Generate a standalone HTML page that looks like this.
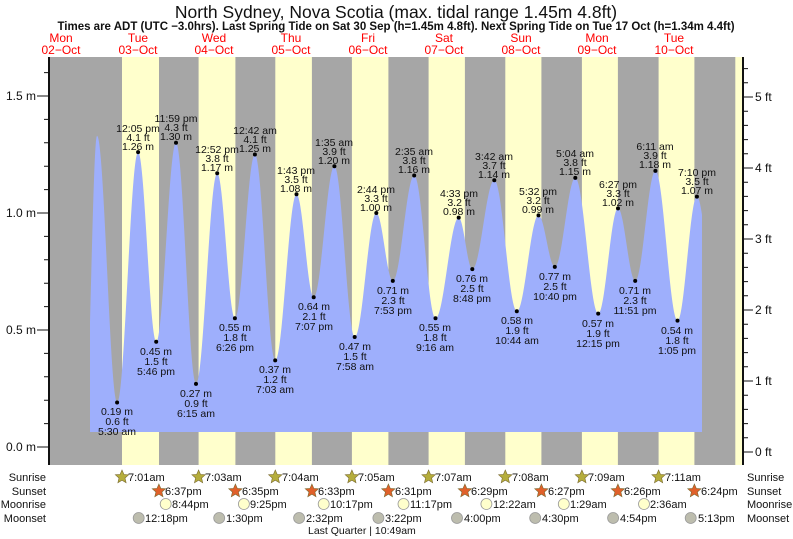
<!DOCTYPE html>
<html><head><meta charset="utf-8"><style>
body{margin:0;background:#fff;}
svg{display:block;font-family:"Liberation Sans",sans-serif;}
.t{font-size:10.5px;fill:#111;text-anchor:middle;}
.d{font-size:12px;fill:#ff0000;text-anchor:middle;}
.b{font-size:11px;fill:#111;}
</style></head><body>
<svg id="s" width="793" height="539" viewBox="0 0 793 539">
<rect width="793" height="539" fill="#fff"/>
<text x="396" y="18" font-size="17.5" text-anchor="middle" fill="#111">North Sydney, Nova Scotia (max. tidal range 1.45m 4.8ft)</text>
<text x="396" y="30" font-size="11.5" font-weight="bold" text-anchor="middle" fill="#111">Times are ADT (UTC −3.0hrs). Last Spring Tide on Sat 30 Sep (h=1.45m 4.8ft). Next Spring Tide on Tue 17 Oct (h=1.34m 4.4ft)</text>
<g class="d">
<text x="61" y="42">Mon</text><text x="61" y="54">02−Oct</text>
<text x="138" y="42">Tue</text><text x="138" y="54">03−Oct</text>
<text x="214" y="42">Wed</text><text x="214" y="54">04−Oct</text>
<text x="291" y="42">Thu</text><text x="291" y="54">05−Oct</text>
<text x="368" y="42">Fri</text><text x="368" y="54">06−Oct</text>
<text x="444" y="42">Sat</text><text x="444" y="54">07−Oct</text>
<text x="521" y="42">Sun</text><text x="521" y="54">08−Oct</text>
<text x="597" y="42">Mon</text><text x="597" y="54">09−Oct</text>
<text x="674" y="42">Tue</text><text x="674" y="54">10−Oct</text>
</g>
<rect x="49" y="57" width="694" height="408" fill="#a6a6a6"/>
<g fill="#ffffcc">
<rect x="122" y="57" width="37" height="408"/>
<rect x="198.6" y="57" width="36.8" height="408"/>
<rect x="275.3" y="57" width="36.6" height="408"/>
<rect x="351.9" y="57" width="36.5" height="408"/>
<rect x="428.6" y="57" width="36.3" height="408"/>
<rect x="505.3" y="57" width="36.1" height="408"/>
<rect x="581.9" y="57" width="36" height="408"/>
<rect x="658.6" y="57" width="35.8" height="408"/>
<rect x="735.3" y="57" width="7.7" height="408"/>
</g>
<path id="tide" fill="#9eaffc" d=""/>
<g id="ticks" stroke="#111" stroke-width="1"></g>
<line x1="49" y1="57" x2="49" y2="465" stroke="#111" stroke-width="2"/>
<line x1="743" y1="57" x2="743" y2="465" stroke="#111" stroke-width="2"/>
<g font-size="12" fill="#111">
<text x="36" y="451" text-anchor="end">0.0 m</text>
<text x="36" y="334" text-anchor="end">0.5 m</text>
<text x="36" y="217" text-anchor="end">1.0 m</text>
<text x="36" y="100" text-anchor="end">1.5 m</text>
<text x="755" y="456">0 ft</text>
<text x="755" y="385">1 ft</text>
<text x="755" y="314">2 ft</text>
<text x="755" y="243">3 ft</text>
<text x="755" y="172">4 ft</text>
<text x="755" y="101">5 ft</text>
</g>
<g id="dots" fill="#000"></g>
<g class="t">
<text x="117" y="415">0.19 m</text><text x="117" y="425">0.6 ft</text><text x="117" y="435">5:30 am</text>
<text x="138" y="132">12:05 pm</text><text x="138" y="141">4.1 ft</text><text x="138" y="150">1.26 m</text>
<text x="156" y="355">0.45 m</text><text x="156" y="365">1.5 ft</text><text x="156" y="375">5:46 pm</text>
<text x="176" y="122">11:59 pm</text><text x="176" y="131">4.3 ft</text><text x="176" y="140">1.30 m</text>
<text x="196" y="397">0.27 m</text><text x="196" y="407">0.9 ft</text><text x="196" y="417">6:15 am</text>
<text x="217" y="153">12:52 pm</text><text x="217" y="162">3.8 ft</text><text x="217" y="171">1.17 m</text>
<text x="235" y="331">0.55 m</text><text x="235" y="341">1.8 ft</text><text x="235" y="351">6:26 pm</text>
<text x="255" y="134">12:42 am</text><text x="255" y="143">4.1 ft</text><text x="255" y="152">1.25 m</text>
<text x="275" y="373">0.37 m</text><text x="275" y="383">1.2 ft</text><text x="275" y="393">7:03 am</text>
<text x="296" y="174">1:43 pm</text><text x="296" y="183">3.5 ft</text><text x="296" y="192">1.08 m</text>
<text x="314" y="310">0.64 m</text><text x="314" y="320">2.1 ft</text><text x="314" y="330">7:07 pm</text>
<text x="334" y="146">1:35 am</text><text x="334" y="155">3.9 ft</text><text x="334" y="164">1.20 m</text>
<text x="355" y="350">0.47 m</text><text x="355" y="360">1.5 ft</text><text x="355" y="370">7:58 am</text>
<text x="376" y="193">2:44 pm</text><text x="376" y="202">3.3 ft</text><text x="376" y="211">1.00 m</text>
<text x="393" y="294">0.71 m</text><text x="393" y="304">2.3 ft</text><text x="393" y="314">7:53 pm</text>
<text x="414" y="155">2:35 am</text><text x="414" y="164">3.8 ft</text><text x="414" y="173">1.16 m</text>
<text x="435" y="331">0.55 m</text><text x="435" y="341">1.8 ft</text><text x="435" y="351">9:16 am</text>
<text x="459" y="197">4:33 pm</text><text x="459" y="206">3.2 ft</text><text x="459" y="215">0.98 m</text>
<text x="472" y="282">0.76 m</text><text x="472" y="292">2.5 ft</text><text x="472" y="302">8:48 pm</text>
<text x="494" y="160">3:42 am</text><text x="494" y="169">3.7 ft</text><text x="494" y="178">1.14 m</text>
<text x="517" y="324">0.58 m</text><text x="517" y="334">1.9 ft</text><text x="517" y="344">10:44 am</text>
<text x="538" y="195">5:32 pm</text><text x="538" y="204">3.2 ft</text><text x="538" y="213">0.99 m</text>
<text x="555" y="280">0.77 m</text><text x="555" y="290">2.5 ft</text><text x="555" y="300">10:40 pm</text>
<text x="575" y="157">5:04 am</text><text x="575" y="166">3.8 ft</text><text x="575" y="175">1.15 m</text>
<text x="598" y="327">0.57 m</text><text x="598" y="337">1.9 ft</text><text x="598" y="347">12:15 pm</text>
<text x="618" y="188">6:27 pm</text><text x="618" y="197">3.3 ft</text><text x="618" y="206">1.02 m</text>
<text x="635" y="294">0.71 m</text><text x="635" y="304">2.3 ft</text><text x="635" y="314">11:51 pm</text>
<text x="655" y="150">6:11 am</text><text x="655" y="159">3.9 ft</text><text x="655" y="168">1.18 m</text>
<text x="677" y="334">0.54 m</text><text x="677" y="344">1.8 ft</text><text x="677" y="354">1:05 pm</text>
<text x="697" y="176">7:10 pm</text><text x="697" y="185">3.5 ft</text><text x="697" y="194">1.07 m</text>
</g>
<g class="b" text-anchor="end">
<text x="46" y="481">Sunrise</text><text x="46" y="495">Sunset</text><text x="46" y="508">Moonrise</text><text x="46" y="522">Moonset</text>
</g>
<g class="b">
<text x="747" y="481">Sunrise</text><text x="747" y="495">Sunset</text><text x="747" y="508">Moonrise</text><text x="747" y="522">Moonset</text>
</g>
<g id="icons"></g>
<g class="b">
<text x="128" y="481">7:01am</text><text x="205" y="481">7:03am</text><text x="282" y="481">7:04am</text><text x="358" y="481">7:05am</text><text x="435" y="481">7:07am</text><text x="512" y="481">7:08am</text><text x="588" y="481">7:09am</text><text x="665" y="481">7:11am</text>
<text x="165" y="495">6:37pm</text><text x="242" y="495">6:35pm</text><text x="318" y="495">6:33pm</text><text x="395" y="495">6:31pm</text><text x="471" y="495">6:29pm</text><text x="548" y="495">6:27pm</text><text x="624" y="495">6:26pm</text><text x="701" y="495">6:24pm</text>
<text x="172" y="508">8:44pm</text><text x="250" y="508">9:25pm</text><text x="330" y="508">10:17pm</text><text x="410" y="508">11:17pm</text><text x="493" y="508">12:22am</text><text x="570" y="508">1:29am</text><text x="650" y="508">2:36am</text>
<text x="145" y="522">12:18pm</text><text x="226" y="522">1:30pm</text><text x="306" y="522">2:32pm</text><text x="385" y="522">3:22pm</text><text x="464" y="522">4:00pm</text><text x="542" y="522">4:30pm</text><text x="620" y="522">4:54pm</text><text x="698" y="522">5:13pm</text>
</g>
<text x="308" y="534" font-size="10.5" fill="#111">Last Quarter | 10:49am</text>
</svg>
<script>
(function(){
var ns="http://www.w3.org/2000/svg";
var E=[[85,0.07],[97,1.33],[117.1,.19],[138.1,1.26],[156.2,.45],[176,1.30],[196,.27],[217.2,1.17],[234.9,.55],[254.9,1.25],[275.2,.37],[296.5,1.08],[313.7,.64],[334.4,1.20],[354.7,.47],[376.3,1.00],[392.8,.71],[414.2,1.16],[435.5,.55],[458.7,.98],[472.3,.76],[494.3,1.14],[516.8,.58],[538.5,.99],[554.8,.77],[575.3,1.15],[598.2,.57],[618,1.02],[635.2,.71],[655.4,1.18],[677.5,.54],[696.9,1.07],[716,0.6]];
function Y(h){return 447-234*h;}
var d="M90,432";
for(var x=90;x<=702;x+=0.5){
 for(var i=0;i<E.length-1;i++){ if(x>=E[i][0]&&x<=E[i+1][0])break;}
 var a=E[i],b=E[i+1];var f=(x-a[0])/(b[0]-a[0]);
 var h=a[1]+(b[1]-a[1])*(1-Math.cos(Math.PI*f))/2;
 var y=Math.min(Y(h),432);
 d+=" L"+x+","+y.toFixed(1);
}
d+=" L702,432 Z";
document.getElementById("tide").setAttribute("d",d);
var dots=document.getElementById("dots");
for(var i=2;i<E.length-1;i++){var c=document.createElementNS(ns,"circle");c.setAttribute("cx",E[i][0]);c.setAttribute("cy",Y(E[i][1]));c.setAttribute("r",2);dots.appendChild(c);}
var t=document.getElementById("ticks"),s="";
for(var k=0;k<=17;k++){var y=447-23.4*k;if(y<58)break;s+="M49,"+y+" L"+(49-(k%5==0?12:5))+","+y+" ";}
for(var k=0;k<=28;k++){var y=452-14.2*k;if(y<58)break;s+="M743,"+y+" L"+(743+(k%5==0?10:5))+","+y+" ";}
var p=document.createElementNS(ns,"path");p.setAttribute("d",s);t.appendChild(p);
var ic=document.getElementById("icons");
function star(cx,cy,col){var pts=[];for(var j=0;j<10;j++){var r=j%2?3.2:7,an=-Math.PI/2+j*Math.PI/5;pts.push((cx+r*Math.cos(an)).toFixed(1)+","+(cy+r*Math.sin(an)).toFixed(1));}
 var e=document.createElementNS(ns,"polygon");e.setAttribute("points",pts.join(" "));e.setAttribute("fill",col);e.setAttribute("stroke","#7a6a30");e.setAttribute("stroke-width","0.6");ic.appendChild(e);}
function circ(cx,cy,col){var e=document.createElementNS(ns,"circle");e.setAttribute("cx",cx);e.setAttribute("cy",cy);e.setAttribute("r",5.5);e.setAttribute("fill",col);e.setAttribute("stroke","#999");e.setAttribute("stroke-width","0.8");ic.appendChild(e);}
[122,198.6,275.3,351.9,428.6,505.3,581.9,658.6].forEach(function(x){star(x,477,"#b5ad3c");});
[158.9,235.4,311.9,388.4,464.9,541.4,617.9,694.4].forEach(function(x){star(x,491,"#e0602a");});
[165.7,243.9,323.7,403.5,486.4,563.8,644].forEach(function(x){circ(x,504,"#ffffcc");});
[138.7,219.2,299.1,378.4,457,535.2,613.1,690.7].forEach(function(x){circ(x,518,"#bdbdae");});
})();
</script>
</body></html>
